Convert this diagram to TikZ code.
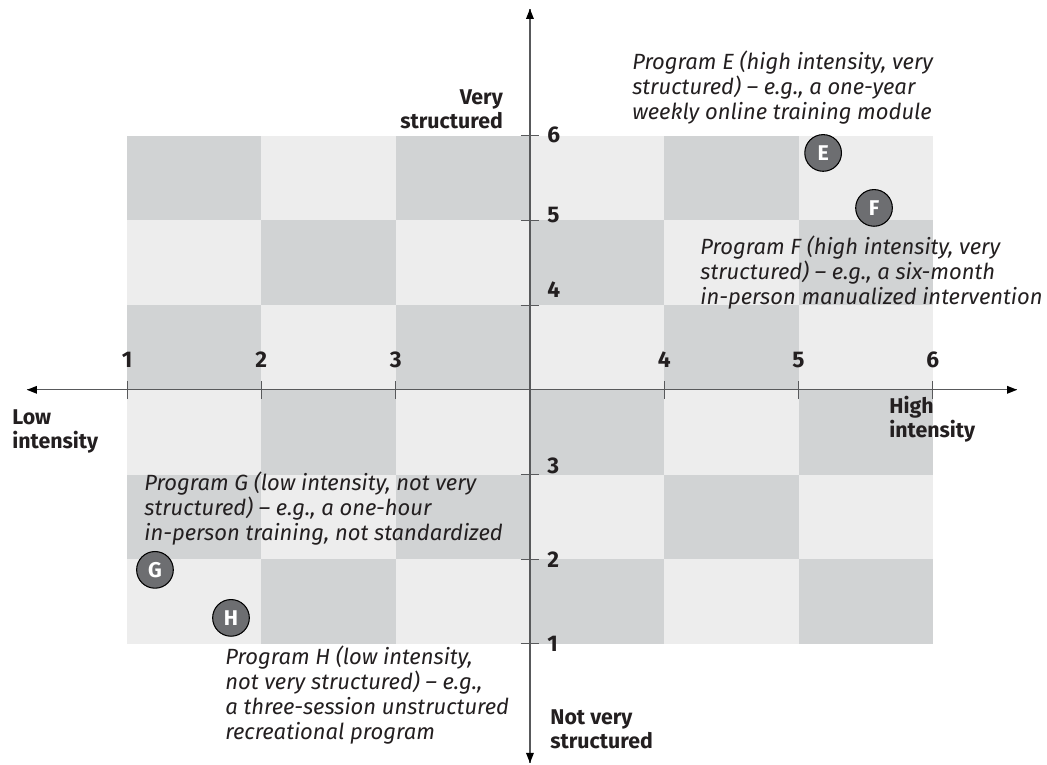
\documentclass[tikz,border=0pt]{standalone}
\usepackage{fontspec}
\setmainfont{Fira Sans}
\usepackage{tikz}

\definecolor{cellDark}{HTML}{D1D3D4}
\definecolor{cellLight}{HTML}{EDEDED}
\definecolor{axisGray}{HTML}{58595B}
\definecolor{dotGray}{HTML}{6D6E71}
\definecolor{inkBlack}{HTML}{231F20}

\begin{document}
\begin{tikzpicture}[x=100.7pt,y=63.5pt]
\tikzstyle{every node}+=[inner sep=0pt, text=inkBlack]
\tikzstyle{tickNum}=[font=\fontsize{17}{17}\selectfont\bfseries]
\tikzstyle{axisLabel}=[font=\fontsize{16}{18}\selectfont\bfseries]
\tikzstyle{progText}=[font=\fontsize{16.5}{18.75}\selectfont\itshape, align=left, anchor=base west]
\tikzstyle{progDot}=[circle, draw=black, line width=0.8pt, fill=dotGray, minimum size=27.5pt, text=white, font=\fontsize{16}{16}\selectfont\bfseries]
\tikzstyle{axisLine}=[axisGray, line width=1pt]
\useasboundingbox (-0.946,-1.429) rectangle (6.850,7.603);
% checkerboard
\fill [cellLight] (0,0) rectangle (6,6);
\foreach \i in {0,...,5}
  \foreach \j in {0,...,5} {
    \pgfmathtruncatemacro\k{mod(\i+\j,2)}
    \ifnum\k=1 \fill [cellDark] (\i,\j) rectangle ++(1,1); \fi
  }
% axes
\coordinate (xL) at (-0.745,3);
\coordinate (xR) at (6.627,3);
\coordinate (yT) at (3,7.497);
\coordinate (yB) at (3,-1.405);
\draw [axisLine] (xL) -- (xR);
\draw [axisLine] (yB) -- (yT);
\fill [black] (xR) -- ++(-7.5pt,3pt) -- ++(0,-6pt) -- cycle;
\fill [black] (xL) -- ++(7.5pt,3pt) -- ++(0,-6pt) -- cycle;
\fill [black] (yT) -- ++(3pt,-7.5pt) -- ++(-6pt,0) -- cycle;
\fill [black] (yB) -- ++(3pt,7.5pt) -- ++(-6pt,0) -- cycle;
\foreach \i in {0,1,2,4,5,6}
  \draw [axisLine, line width=0.8pt] (\i,3) ++(0,-6.75pt) -- ++(0,13.5pt);
\foreach \j in {0,1,2,4,5,6}
  \draw [axisLine, line width=0.8pt] (3,\j) ++(-6.75pt,0) -- ++(13.5pt,0);
% tick numbers
\foreach \i/\n in {0/1,1/2,2/3,4/4,5/5,6/6}
  \node [tickNum, anchor=base] (xn\n) at (\i,3.26) {\n};
\node [tickNum, anchor=base west] (yn6) at (3.127,5.915) {6};
\node [tickNum, anchor=base west] (yn5) at (3.127,4.970) {5};
\node [tickNum, anchor=base west] (yn4) at (3.127,4.085) {4};
\node [tickNum, anchor=base west] (yn3) at (3.127,2.007) {3};
\node [tickNum, anchor=base west] (yn2) at (3.127,0.897) {2};
\node [tickNum, anchor=base west] (yn1) at (3.127,-0.094) {1};
% axis labels (base = last line)
\node [axisLabel, align=right, anchor=base east] (lblVery) at (2.800,6.080) {Very\\structured};
\node [axisLabel, align=left, anchor=base west] (lblLow) at (-0.856,2.302) {Low\\intensity};
\node [axisLabel, align=left, anchor=base west] (lblHigh) at (5.674,2.432) {High\\intensity};
\node [axisLabel, align=left, anchor=base west] (lblNot) at (3.150,-1.240) {Not very\\structured};
% programs
\node [progDot] (dotE) at (5.183,5.797) {E};
\node [progDot] (dotF) at (5.562,5.148) {F};
\node [progDot] (dotG) at (0.208,0.874) {G};
\node [progDot] (dotH) at (0.774,0.307) {H};
\node [progText] (txtE) at (3.760,6.187) {Program E (high intensity, very\\structured) – e.g., a one-year\\weekly online training module};
\node [progText] (txtF) at (4.267,4.002) {Program F (high intensity, very\\structured) – e.g., a six-month\\in-person manualized intervention};
\node [progText] (txtG) at (0.127,1.216) {Program G (low intensity, not very\\structured) – e.g., a one-hour\\in-person training, not standardized};
\node [progText] (txtH) at (0.730,-1.133) {Program H (low intensity,\\not very structured) – e.g.,\\a three-session unstructured\\recreational program};
\end{tikzpicture}
\end{document}
